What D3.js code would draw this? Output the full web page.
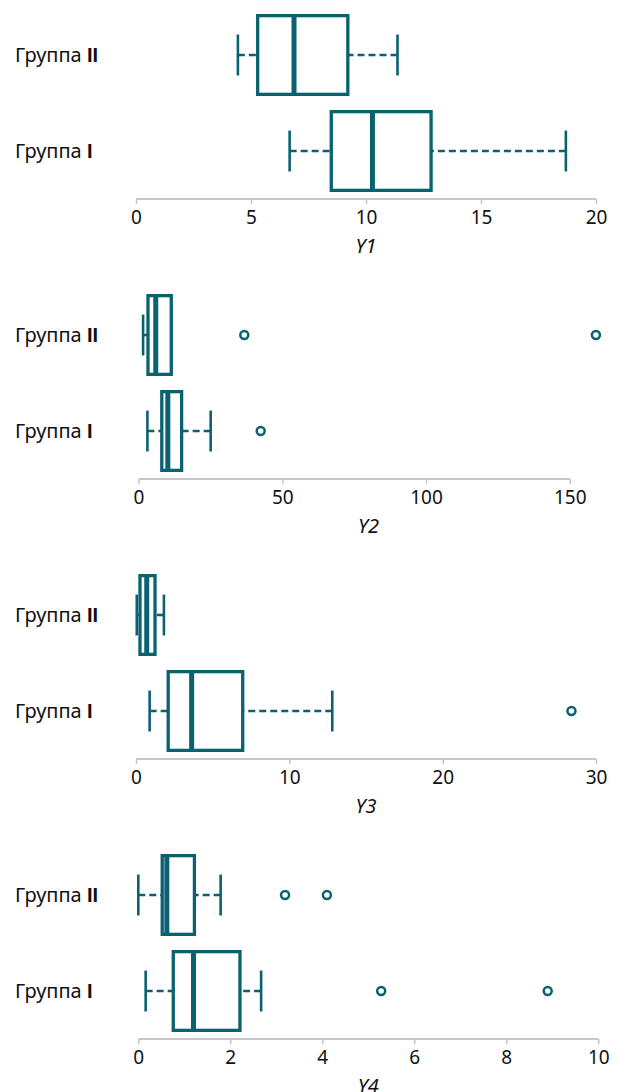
<!DOCTYPE html>
<html>
<head>
<meta charset="utf-8">
<script src="https://cdn.jsdelivr.net/npm/d3@7"></script>
<style>
  body { margin: 0; background: #fff; }
  text { font-family: "Noto Sans", sans-serif; fill: #111; }
</style>
</head>
<body>
<div id="viz"></div>
<script>
// groups, top to bottom (name + roman numeral drawn in bold)
const groups = ["Группа II", "Группа I"];
const varNames = ["Y1", "Y2", "Y3", "Y4"];

// box stats: [lower whisker, Q1, median, Q3, upper whisker]
const y1GroupII = [4.43, 5.29, 6.87, 9.21, 11.37];
const y1GroupI  = [6.68, 8.49, 10.28, 12.83, 18.69];
const y2GroupII = [1.6, 3.3, 6.0, 11.4, 11.4];
const y2GroupI  = [3.1, 8.1, 10.2, 15.0, 25.1];
const y3GroupII = [0.05, 0.26, 0.7, 1.24, 1.82];
const y3GroupI  = [0.89, 2.1, 3.63, 6.96, 12.8];
const y4GroupII = [0.0, 0.52, 0.62, 1.22, 1.79];
const y4GroupI  = [0.16, 0.76, 1.2, 2.21, 2.67];

// outliers
const y1OutII = [], y1OutI = [];
const y2OutII = [36.8, 159.1], y2OutI = [42.5];
const y3OutII = [], y3OutI = [28.4];
const y4OutII = [3.19, 4.10], y4OutI = [5.28, 8.9];

// axis ticks and domains
const y1Ticks = [0, 5, 10, 15, 20];
const y2Ticks = [0, 50, 100, 150];
const y3Ticks = [0, 10, 20, 30];
const y4Ticks = [0, 2, 4, 6, 8, 10];
const xMax = [20, 160, 30, 10];

const panels = [
  {name: varNames[0], stats: [y1GroupII, y1GroupI], out: [y1OutII, y1OutI], ticks: y1Ticks, max: xMax[0]},
  {name: varNames[1], stats: [y2GroupII, y2GroupI], out: [y2OutII, y2OutI], ticks: y2Ticks, max: xMax[1]},
  {name: varNames[2], stats: [y3GroupII, y3GroupI], out: [y3OutII, y3OutI], ticks: y3Ticks, max: xMax[2]},
  {name: varNames[3], stats: [y4GroupII, y4GroupI], out: [y4OutII, y4OutI], ticks: y4Ticks, max: xMax[3]}
];

const width = 620, height = 1092;
const panelH = 280;
const plotH = 192;
const left = [136, 138.5, 136, 138.3];
const plotW = 460;
const teal = "#0a6270";

const svg = d3.select("#viz")
  .append("svg")
    .attr("width", width)
    .attr("height", height);

panels.forEach((p, i) => {
  const g = svg.append("g")
    .attr("transform", "translate(0," + (7 + i * panelH) + ")");

  const x = d3.scaleLinear()
    .domain([0, p.max])
    .range([left[i], left[i] + plotW]);

  const y = d3.scaleBand()
    .domain(groups)
    .range([0, plotH])
    .paddingInner(0.18)
    .paddingOuter(0.09);

  const bw = y.bandwidth();

  // x axis, line only from first to last tick
  const ax = g.append("g")
    .attr("transform", "translate(0," + plotH + ")")
    .call(d3.axisBottom(x).tickValues(p.ticks).tickSize(5).tickSizeOuter(0).tickPadding(7));
  ax.select(".domain").remove();
  ax.append("line")
    .attr("x1", x(p.ticks[0]))
    .attr("x2", x(p.ticks[p.ticks.length - 1]))
    .attr("stroke", "#c6c6c6")
    .attr("stroke-width", 2);
  ax.selectAll(".tick line").attr("stroke", "#c6c6c6").attr("stroke-width", 1.5);
  ax.selectAll(".tick text")
    .style("font-family", "'Noto Sans', sans-serif")
    .style("font-size", "19px")
    .attr("fill", "#111");

  // axis title
  g.append("text")
    .attr("x", left[i] + plotW / 2)
    .attr("y", plotH + 47)
    .attr("dy", "0.36em")
    .attr("text-anchor", "middle")
    .style("font-size", "20px")
    .style("font-style", "italic")
    .text(p.name);

  // group labels
  const lab = g.selectAll(".glabel")
    .data(groups)
    .enter().append("text")
      .attr("x", 15)
      .attr("y", d => y(d) + bw / 2)
      .attr("dy", "0.36em")
      .style("font-size", "20px");
  lab.append("tspan").text(d => d.split(" ")[0] + " ");
  lab.append("tspan")
    .style("font-family", "'Liberation Sans', 'DejaVu Sans', sans-serif")
    .style("font-weight", "bold")
    .text(d => d.split(" ")[1]);

  groups.forEach((grp, j) => {
    const s = p.stats[j];
    const cy = y(grp) + bw / 2;
    const capH = bw * 0.52;

    // whiskers
    [[s[0], s[1]], [s[4], s[3]]].forEach(w => {
      if (w[0] === w[1]) return;
      g.append("line")
        .attr("x1", x(w[0])).attr("x2", x(w[1]))
        .attr("y1", cy).attr("y2", cy)
        .attr("stroke", teal)
        .attr("stroke-width", 2.6)
        .attr("stroke-dasharray", "7,4");
      g.append("line")
        .attr("x1", x(w[0])).attr("x2", x(w[0]))
        .attr("y1", cy - capH / 2).attr("y2", cy + capH / 2)
        .attr("stroke", teal)
        .attr("stroke-width", 2.6);
    });

    // box
    g.append("rect")
      .attr("x", x(s[1]))
      .attr("y", y(grp))
      .attr("width", x(s[3]) - x(s[1]))
      .attr("height", bw)
      .attr("fill", "#fff")
      .attr("stroke", teal)
      .attr("stroke-width", 3.3);

    // median
    g.append("line")
      .attr("x1", x(s[2])).attr("x2", x(s[2]))
      .attr("y1", y(grp)).attr("y2", y(grp) + bw)
      .attr("stroke", teal)
      .attr("stroke-width", 5);

    // outliers
    g.selectAll(null)
      .data(p.out[j])
      .enter().append("circle")
        .attr("cx", d => x(d))
        .attr("cy", cy)
        .attr("r", 4)
        .attr("fill", "#fff")
        .attr("stroke", teal)
        .attr("stroke-width", 2.5);
  });
});
</script>
</body>
</html>
